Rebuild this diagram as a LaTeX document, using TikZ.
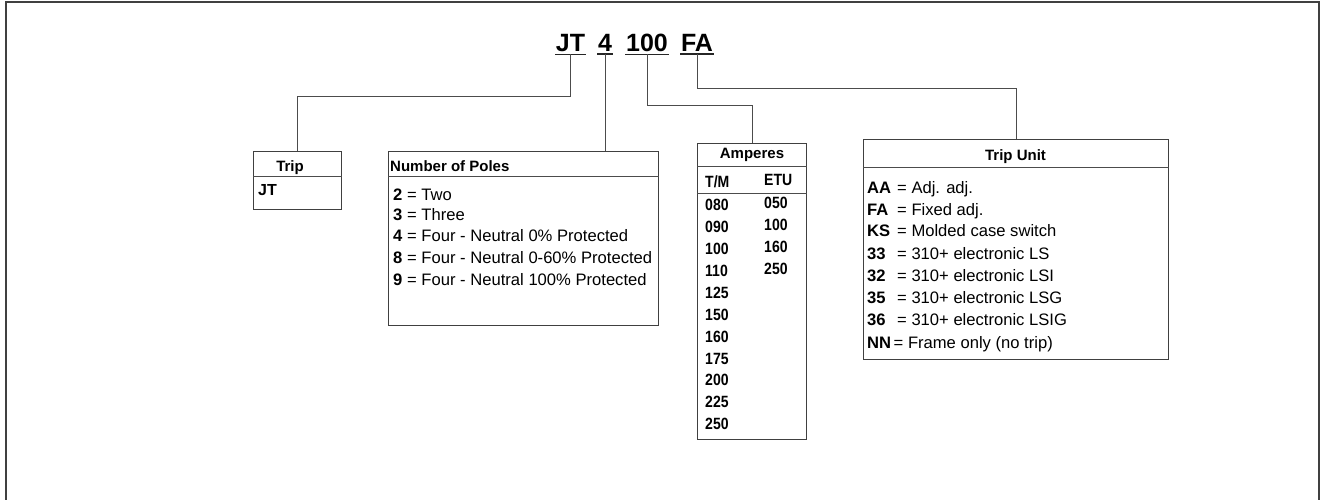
\documentclass[tikz,border=0pt]{standalone}
\usepackage{fontspec}
\setmainfont{Liberation Sans}
\newfontfamily\condfont[FakeStretch=0.86]{Liberation Sans}
\begin{document}
\begin{tikzpicture}[x=1pt,y=-1pt,
  frame/.style={draw=black!75,line width=1.4pt},
  box/.style={draw=black!75,line width=1.1pt,rectangle,inner sep=0pt,anchor=north west},
  divider/.style={draw=black!70,line width=1pt},
  conn/.style={draw=black!70,line width=1pt},
  uline/.style={draw=black!85,line width=1.8pt},
  code/.style={font=\fontsize{25}{28}\selectfont\bfseries,inner xsep=0.5pt,inner ysep=2pt,anchor=base},
  head/.style={font=\fontsize{15}{18}\selectfont\bfseries,inner sep=0pt},
  body/.style={font=\fontsize{16.6}{19}\selectfont,inner sep=0pt,anchor=base west},
  amp/.style={font=\condfont\fontsize{16.3}{18}\selectfont\bfseries,inner sep=0pt,anchor=base west}
]
\useasboundingbox (0,0) rectangle (1321,500);
% outer frame
\draw[frame] (6,500) -- (6,2) -- (1319,2) -- (1319,500);

% title
\node[code] (jt) at (570.5,52) {JT};
\node[code] (four) at (605,52) {4};
\node[code] (hund) at (647,52) {100};
\node[code] (fa) at (697,52) {FA};
\foreach \n in {jt,four,hund,fa}{\draw[uline] (\n.south west) -- (\n.south east);}

% boxes
\node[box,minimum width=88pt,minimum height=58pt] (trip) at (253,151) {};
\node[box,minimum width=270pt,minimum height=174pt] (poles) at (388,151) {};
\node[box,minimum width=109pt,minimum height=296pt] (amp) at (697,143) {};
\node[box,minimum width=305pt,minimum height=220pt] (tu) at (863,139) {};

\draw[divider] (trip.west |- 0,176) -- (trip.east |- 0,176);
\draw[divider] (poles.west |- 0,176) -- (poles.east |- 0,176);
\draw[divider] (amp.west |- 0,166) -- (amp.east |- 0,166);
\draw[divider] (amp.west |- 0,193) -- (amp.east |- 0,193);
\draw[divider] (tu.west |- 0,167) -- (tu.east |- 0,167);

% connectors
\coordinate (yjt) at (0,97);
\coordinate (yhund) at (0,106);
\coordinate (yfa) at (0,89);
\draw[conn] (jt.south) -- (jt.south |- yjt) -| (trip.north);
\draw[conn] (four.south) -- (four.south |- poles.north);
\draw[conn] (hund.south) -- (hund.south |- yhund) -| (amp.north);
\draw[conn] (fa.south) -- (fa.south |- yfa) -| (tu.north);

% Trip box
\node[head,anchor=base] (triph) at (290,171) {Trip};
\node[head,anchor=base west,font=\fontsize{16}{18}\selectfont\bfseries] (tripjt) at (258,195.7) {JT};

% Poles box
\node[head,anchor=base west] (polesh) at (390,171) {Number of Poles};
\node[body] (p1) at (393,200) {\makebox[14pt][l]{\textbf{2}}= Two};
\node[body] (p2) at (393,220) {\makebox[14pt][l]{\textbf{3}}= Three};
\node[body] (p3) at (393,241.7) {\makebox[14pt][l]{\textbf{4}}= Four - Neutral 0\% Protected};
\node[body] (p4) at (393,263.3) {\makebox[14pt][l]{\textbf{8}}= Four - Neutral 0-60\% Protected};
\node[body] (p5) at (393,285) {\makebox[14pt][l]{\textbf{9}}= Four - Neutral 100\% Protected};

% Amperes box
\node[head,anchor=base] (amph) at (752,158) {Amperes};
\node[amp] (tm) at (705,187.7) {T/M};
\node[amp] (etu) at (764,185) {ETU};
\foreach \v [count=\i from 0] in {080,090,100,110,125,150,160,175,200,225,250}{
  \node[amp] (tm\i) at (705,210.7+21.9*\i) {\v};
}
\foreach \v [count=\i from 0] in {050,100,160,250}{
  \node[amp] (etu\i) at (764,208.3+21.9*\i) {\v};
}

% Trip Unit box
\node[head,anchor=base] (tuh) at (1015.5,160) {Trip Unit};
\node[body] (t1) at (867,193.3) {\makebox[30pt][l]{\textbf{AA}}= Adj. adj.};
\node[body] (t2) at (867,215) {\makebox[30pt][l]{\textbf{FA}}= Fixed adj.};
\node[body] (t3) at (867,236.7) {\makebox[30pt][l]{\textbf{KS}}= Molded case switch};
\node[body] (t4) at (867,259) {\makebox[30pt][l]{\textbf{33}}= 310+ electronic LS};
\node[body] (t5) at (867,281) {\makebox[30pt][l]{\textbf{32}}= 310+ electronic LSI};
\node[body] (t6) at (867,303) {\makebox[30pt][l]{\textbf{35}}= 310+ electronic LSG};
\node[body] (t7) at (867,325) {\makebox[30pt][l]{\textbf{36}}= 310+ electronic LSIG};
\node[body] (t8) at (867,348) {\makebox[26.5pt][l]{\textbf{NN}}= Frame only (no trip)};
\end{tikzpicture}
\end{document}
